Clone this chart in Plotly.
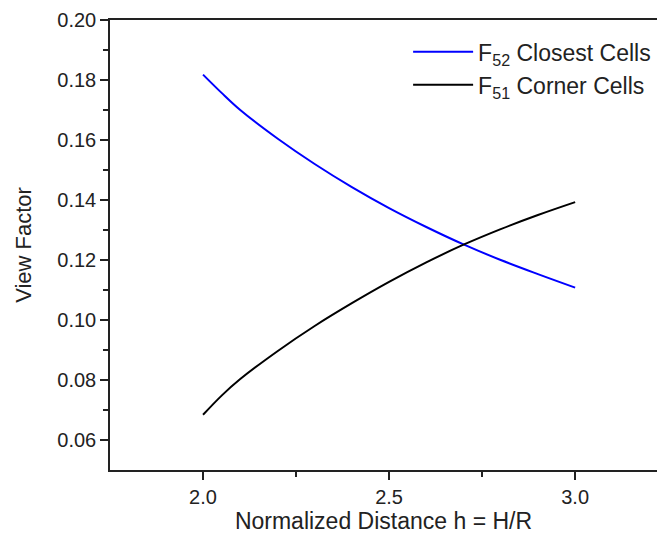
import plotly.graph_objects as go

h_values = [2.0, 2.05, 2.1, 2.2, 2.3, 2.4, 2.5, 2.6, 2.7, 2.8, 2.9, 3.0]
f52_closest = [0.1818, 0.1757, 0.1700, 0.1605, 0.1520, 0.1443, 0.1373, 0.1310, 0.1252, 0.1200, 0.1153, 0.1108]
f51_corner = [0.0684, 0.0748, 0.0803, 0.0896, 0.0980, 0.1056, 0.1127, 0.1192, 0.1251, 0.1303, 0.1350, 0.1393]

x_ticks = [2.0, 2.5, 3.0]
x_tick_labels = ["2.0", "2.5", "3.0"]
y_ticks = [0.06, 0.08, 0.10, 0.12, 0.14, 0.16, 0.18, 0.20]
y_tick_labels = ["0.06", "0.08", "0.10", "0.12", "0.14", "0.16", "0.18", "0.20"]

FONT = "Liberation Sans, Arial, sans-serif"
INK = "#222"

fig = go.Figure()
fig.add_trace(go.Scatter(x=h_values, y=f52_closest, mode="lines",
                         line=dict(color="#0000FF", width=2, shape="spline", smoothing=1),
                         name="F<sub>52</sub> Closest Cells"))
fig.add_trace(go.Scatter(x=h_values, y=f51_corner, mode="lines",
                         line=dict(color="#000000", width=2, shape="spline", smoothing=1),
                         name="F<sub>51</sub> Corner Cells"))

fig.update_layout(
    width=657, height=535,
    margin=dict(l=110, r=0, t=20, b=65),
    paper_bgcolor="white", plot_bgcolor="white",
    font=dict(family=FONT, color=INK, size=20),
    showlegend=True,
    legend=dict(x=0.545, y=0.977, xanchor="left", yanchor="top",
                font=dict(family=FONT, size=23, color=INK),
                bgcolor="rgba(0,0,0,0)", itemwidth=60, tracegroupgap=0),
    xaxis=dict(range=[1.75, 3.22], tickmode="array", tickvals=x_ticks, ticktext=x_tick_labels,
               showline=True, linecolor=INK, linewidth=1.5, mirror=True,
               ticks="outside", ticklen=8, tickwidth=1.5, tickcolor=INK,
               minor=dict(tickmode="array", tickvals=[2.25, 2.75], ticks="outside", ticklen=5, tickwidth=1.5, tickcolor=INK),
               showgrid=False, zeroline=False,
               tickfont=dict(size=20, family=FONT, color=INK),
               title=dict(text="Normalized Distance h = H/R", font=dict(size=23, family=FONT, color=INK), standoff=4)),
    yaxis=dict(range=[0.05, 0.20], tickmode="array", tickvals=y_ticks, ticktext=y_tick_labels,
               showline=True, linecolor=INK, linewidth=1.5, mirror=False,
               ticks="outside", ticklen=8, tickwidth=1.5, tickcolor=INK,
               minor=dict(tickmode="array", tickvals=[0.07, 0.09, 0.11, 0.13, 0.15, 0.17, 0.19], ticks="outside", ticklen=5, tickwidth=1.5, tickcolor=INK),
               showgrid=False, zeroline=False,
               tickfont=dict(size=20, family=FONT, color=INK),
               title=dict(text="View Factor", font=dict(size=22, family=FONT, color=INK), standoff=20)),
)

fig.write_html("out.html")
